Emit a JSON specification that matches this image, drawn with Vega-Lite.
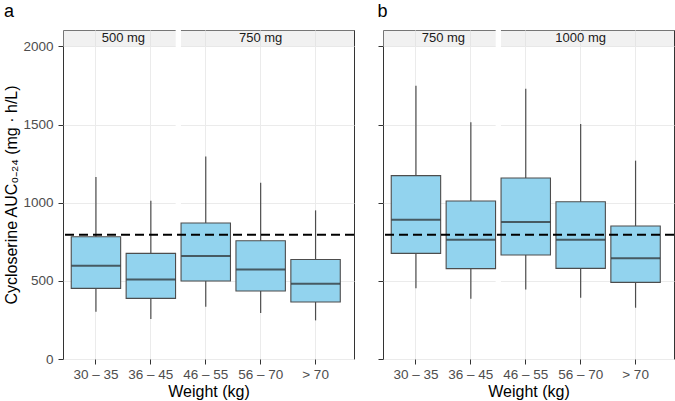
{
  "$schema": "https://vega.github.io/schema/vega-lite/v6.json",
  "background": "white",
  "padding": {"left": 3, "top": 2, "right": 2, "bottom": 2},
  "spacing": 21,
  "config": {
    "font": "Liberation Sans",
    "view": {"stroke": "#333333", "strokeWidth": 1},
    "axis": {
      "domain": false,
      "gridColor": "#EBEBEB",
      "gridWidth": 1,
      "tickColor": "#333333",
      "tickSize": 5,
      "labelColor": "#4D4D4D",
      "labelFontSize": 13.5,
      "titleFontSize": 16,
      "titleFontWeight": "normal",
      "titleColor": "#000000"
    },
    "title": {"fontSize": 18, "fontWeight": "normal", "anchor": "start", "color": "#000000"}
  },
  "datasets": {
    "boxes_a": [
      {"weight": "30 – 35", "lower": 302, "q1": 452, "median": 597, "q3": 782, "upper": 1164},
      {"weight": "36 – 45", "lower": 256, "q1": 388, "median": 509, "q3": 676, "upper": 1013},
      {"weight": "46 – 55", "lower": 335, "q1": 499, "median": 659, "q3": 870, "upper": 1296},
      {"weight": "56 – 70", "lower": 294, "q1": 435, "median": 573, "q3": 757, "upper": 1128},
      {"weight": "> 70", "lower": 247, "q1": 365, "median": 482, "q3": 637, "upper": 951}
    ],
    "boxes_b": [
      {"weight": "30 – 35", "lower": 452, "q1": 676, "median": 891, "q3": 1173, "upper": 1749},
      {"weight": "36 – 45", "lower": 386, "q1": 578, "median": 763, "q3": 1011, "upper": 1514},
      {"weight": "46 – 55", "lower": 445, "q1": 665, "median": 876, "q3": 1158, "upper": 1729},
      {"weight": "56 – 70", "lower": 392, "q1": 580, "median": 763, "q3": 1006, "upper": 1503},
      {"weight": "> 70", "lower": 328, "q1": 490, "median": 644, "q3": 851, "upper": 1269}
    ],
    "strips_a": [
      {"dose": "500 mg", "from": 0.4, "to": 2.46, "mid": 1.5},
      {"dose": "750 mg", "from": 2.54, "to": 5.7, "mid": 4}
    ],
    "strips_b": [
      {"dose": "750 mg", "from": 0.4, "to": 2.46, "mid": 1.5},
      {"dose": "1000 mg", "from": 2.54, "to": 5.7, "mid": 4}
    ],
    "target": [{"auc": 795}]
  },
  "hconcat": [
    {
      "width": 291,
      "height": 329,
      "title": {"text": "a", "offset": 7},
      "resolve": {"scale": {"x": "independent"}},
      "layer": [
        {
          "data": {"name": "strips_a"},
          "mark": {"type": "rect", "fill": "#DDDDDD", "opacity": 0.4},
          "encoding": {
            "x": {"field": "from", "type": "quantitative", "scale": {"domain": [0.4, 5.7], "nice": false, "zero": false}, "axis": null},
            "x2": {"field": "to"},
            "y": {"datum": 2000, "type": "quantitative", "scale": {"domain": [0, 2105], "nice": false}, "axis": {"values": [0, 500, 1000, 1500, 2000], "format": "d", "title": "Cycloserine AUC₀₋₂₄ (mg · h/L)", "grid": true, "titlePadding": 3, "labelPadding": 5}},
            "y2": {"datum": 2105}
          }
        },
        {
          "data": {"name": "strips_a"},
          "mark": {"type": "rule", "color": "white", "strokeWidth": 5},
          "encoding": {
            "x": {"datum": 2.5, "type": "quantitative", "scale": {"domain": [0.4, 5.7], "nice": false, "zero": false}, "axis": null}
          }
        },
        {
          "data": {"name": "boxes_a"},
          "mark": {"type": "rule", "color": "#4D4D4D", "strokeWidth": 1.2},
          "encoding": {
            "x": {"field": "weight", "type": "nominal", "sort": null, "scale": {"type": "band", "paddingInner": 0.1, "paddingOuter": 0.2, "align": 0.375}, "axis": {"title": "Weight (kg)", "grid": true, "labelAngle": 0, "labelPadding": 3, "titlePadding": 3}},
            "y": {"field": "lower", "type": "quantitative"},
            "y2": {"field": "upper"}
          }
        },
        {
          "data": {"name": "boxes_a"},
          "mark": {"type": "bar", "fill": "#92D3EE", "stroke": "#4D4D4D", "strokeWidth": 1.1},
          "encoding": {
            "x": {"field": "weight", "type": "nominal", "sort": null, "scale": {"type": "band", "paddingInner": 0.1, "paddingOuter": 0.2, "align": 0.375}, "axis": null},
            "y": {"field": "q1", "type": "quantitative"},
            "y2": {"field": "q3"}
          }
        },
        {
          "data": {"name": "boxes_a"},
          "mark": {"type": "tick", "color": "#262626", "thickness": 2, "size": 49, "orient": "horizontal"},
          "encoding": {
            "x": {"field": "weight", "type": "nominal", "sort": null, "scale": {"type": "band", "paddingInner": 0.1, "paddingOuter": 0.2, "align": 0.375}, "axis": null},
            "y": {"field": "median", "type": "quantitative"}
          }
        },
        {
          "data": {"name": "target"},
          "mark": {"type": "rule", "color": "#000000", "strokeWidth": 2, "strokeDash": [9, 5]},
          "encoding": {
            "y": {"field": "auc", "type": "quantitative"}
          }
        },
        {
          "data": {"name": "strips_a"},
          "mark": {"type": "text", "fontSize": 13, "color": "#1A1A1A", "baseline": "middle"},
          "encoding": {
            "x": {"field": "mid", "type": "quantitative", "scale": {"domain": [0.4, 5.7], "nice": false, "zero": false}, "axis": null},
            "y": {"datum": 2052, "type": "quantitative"},
            "text": {"field": "dose"}
          }
        }
      ]
    },
    {
      "width": 291,
      "height": 329,
      "title": {"text": "b", "offset": 7},
      "resolve": {"scale": {"x": "independent"}},
      "layer": [
        {
          "data": {"name": "strips_b"},
          "mark": {"type": "rect", "fill": "#DDDDDD", "opacity": 0.4},
          "encoding": {
            "x": {"field": "from", "type": "quantitative", "scale": {"domain": [0.4, 5.7], "nice": false, "zero": false}, "axis": null},
            "x2": {"field": "to"},
            "y": {"datum": 2000, "type": "quantitative", "scale": {"domain": [0, 2105], "nice": false}, "axis": {"values": [0, 500, 1000, 1500, 2000], "title": null, "labels": false, "grid": true}},
            "y2": {"datum": 2105}
          }
        },
        {
          "data": {"name": "strips_b"},
          "mark": {"type": "rule", "color": "white", "strokeWidth": 5},
          "encoding": {
            "x": {"datum": 2.5, "type": "quantitative", "scale": {"domain": [0.4, 5.7], "nice": false, "zero": false}, "axis": null}
          }
        },
        {
          "data": {"name": "boxes_b"},
          "mark": {"type": "rule", "color": "#4D4D4D", "strokeWidth": 1.2},
          "encoding": {
            "x": {"field": "weight", "type": "nominal", "sort": null, "scale": {"type": "band", "paddingInner": 0.1, "paddingOuter": 0.2, "align": 0.375}, "axis": {"title": "Weight (kg)", "grid": true, "labelAngle": 0, "labelPadding": 3, "titlePadding": 3}},
            "y": {"field": "lower", "type": "quantitative"},
            "y2": {"field": "upper"}
          }
        },
        {
          "data": {"name": "boxes_b"},
          "mark": {"type": "bar", "fill": "#92D3EE", "stroke": "#4D4D4D", "strokeWidth": 1.1},
          "encoding": {
            "x": {"field": "weight", "type": "nominal", "sort": null, "scale": {"type": "band", "paddingInner": 0.1, "paddingOuter": 0.2, "align": 0.375}, "axis": null},
            "y": {"field": "q1", "type": "quantitative"},
            "y2": {"field": "q3"}
          }
        },
        {
          "data": {"name": "boxes_b"},
          "mark": {"type": "tick", "color": "#262626", "thickness": 2, "size": 49, "orient": "horizontal"},
          "encoding": {
            "x": {"field": "weight", "type": "nominal", "sort": null, "scale": {"type": "band", "paddingInner": 0.1, "paddingOuter": 0.2, "align": 0.375}, "axis": null},
            "y": {"field": "median", "type": "quantitative"}
          }
        },
        {
          "data": {"name": "target"},
          "mark": {"type": "rule", "color": "#000000", "strokeWidth": 2, "strokeDash": [9, 5]},
          "encoding": {
            "y": {"field": "auc", "type": "quantitative"}
          }
        },
        {
          "data": {"name": "strips_b"},
          "mark": {"type": "text", "fontSize": 13, "color": "#1A1A1A", "baseline": "middle"},
          "encoding": {
            "x": {"field": "mid", "type": "quantitative", "scale": {"domain": [0.4, 5.7], "nice": false, "zero": false}, "axis": null},
            "y": {"datum": 2052, "type": "quantitative"},
            "text": {"field": "dose"}
          }
        }
      ]
    }
  ]
}
